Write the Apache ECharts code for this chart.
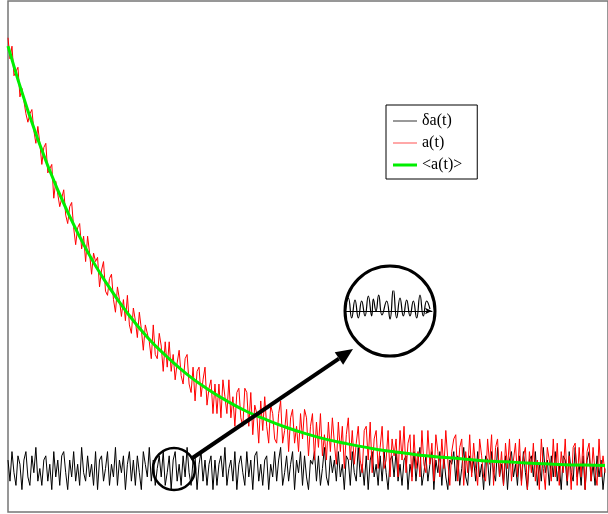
<!DOCTYPE html>
<html>
<head>
<meta charset="utf-8">
<script src="https://cdn.jsdelivr.net/npm/echarts@6/dist/echarts.min.js"></script>
<style>
html,body{margin:0;padding:0;background:#fff;}
#chart{width:608px;height:514px;}
</style>
</head>
<body>
<div id="chart"></div>
<script>
// sampling step of the noisy signals (time units)
const DT = 2;

// fluctuation δa(t)
const deltaA = [
  2, -3, 4, -1, -4, 3, 1, -5, 2, 4, -2, -4, 3, -1, 5,
  -3, 0, -4, 2, 3, -3, 1, -5, 4, -2, 2, -4, 3, 4, -1,
  -5, 2, -2, 4, -3, 1, -4, 5, -1, -3, 3, -2, 1, -4, 4,
  -5, 2, 3, -3, 0, 4, -4, 1, -2, 5, -4, 2, -1, 3, -5,
  1, 4, -3, 2, -4, 3, -1, -5, 4, 1, -2, 5, -3, 2, -4,
  0, 3, -2, 4, -4, -1, 3, -5, 2, 4, -3, 1, -4, 3, -2,
  5, -1, -4, 2, 3, -5, 1, 4, -3, 2, -4, 1, 3, -5, 2,
  -4, 1, 3, -2, 5, -4, 0, 2, -3, 4, -5, 1, 3, -1, -4,
  4, -2, 2, -5, 3, 4, -3, 1, -4, 2, 3, -5, 1, -2, 4,
  -3, 2, 5, -4, -1, 3, -3, 1, 4, -5, 2, -1, 4, -4, 3,
  -2, -5, 2, 1, 4, -3, 3, -4, 0, 5, -2, -4, 3, -1, 2,
  -3, 4, -2, 1, -5, 3, 2, -4, 4, -1, -3, 5, -2, 1, -4,
  3, -5, 2, 4, -2, 1, -4, 3, -3, 4, -1, -5, 2, 3, -2,
  4, -3, 1, -4, 2, 3, -5, 1, -2, 4, -3, 2, 5, -4, -1,
  3, -3, 1, 4, -5, 2, -1, 4, -4, 3, -2, -5, 2, 1, 4,
  -3, 3, -4, 0, 5, -2, -4, 3, -1, 2, -3, 4, -2, 1, -5,
  3, 2, -4, 4, -1, -3, 5, -2, 1, -4, 3, -5, 2, 4, -2,
  1, -4, 3, -3, 4, -1, -5, 2, 3, -2, 4, -4, 1, -3, 5,
  -1, 2, -4, 3, -2, 4, -3, 1, -5, 3, 2, -4, 4, -1, -3,
  5, -2, 1, -4, 3, -5, 2, 4, -3, 1, -4, 3, -2, 2, -5,
  0
];

// signal a(t)
const aValues = [
  102, 97, 100, 93, 94, 95, 88, 90, 90, 84, 82, 84, 85, 80, 77,
  81, 77, 72, 76, 77, 70, 70, 72, 64, 68, 68, 62, 64, 66, 60,
  58, 62, 63, 57, 53, 57, 58, 52, 55, 49, 55, 51, 46, 51, 49,
  50, 43, 47, 49, 42, 41, 45, 46, 40, 37, 43, 40, 36, 40, 35,
  41, 34, 32, 38, 35, 31, 37, 33, 28, 34, 34, 30, 26, 34, 27,
  26, 32, 29, 23, 30, 24, 30, 23, 27, 21, 25, 28, 22, 20, 26,
  27, 20, 18, 24, 16, 23, 24, 17, 21, 24, 15, 19, 21, 13, 20,
  13, 20, 12, 21, 17, 13, 21, 12, 17, 10, 18, 19, 12, 10, 19,
  18, 10, 18, 8, 15, 13, 6, 16, 9, 17, 10, 6, 15, 13, 7,
  6, 13, 16, 6, 9, 14, 4, 12, 14, 6, 10, 4, 13, 7, 14,
  12, 3, 10, 13, 2, 11, 5, 13, 3, 8, 2, 11, 4, 12, 6,
  1, 11, 4, 10, 0, 8, 12, 2, 9, 1, 6, 10, 2, -1, 9,
  10, 2, 11, -1, 7, 9, 0, 5, 10, 0, 2, 9, -2, 7, 3,
  7, -2, 9, 2, 10, -1, 6, 8, -3, 8, 0, 4, -2, 9, 1,
  -1, 9, 1, 6, -3, 8, 4, -2, 7, 0, 9, 2, -4, 4, 7,
  8, -3, 5, 7, -4, 4, -1, 8, -2, 6, 0, -4, 7, 3, -2,
  -3, 7, 1, 8, -4, 5, 7, -2, 4, -4, 6, 0, 7, -3, 2,
  6, -2, 7, -4, 3, 5, -5, 4, -1, 6, -3, 2, -5, 7, 0,
  -5, 5, 2, -3, 7, -2, 6, -4, 4, -1, 7, -3, 3, -5, 5,
  6, -4, 5, -2, 7, -5, 4, 6, -3, 5, -1, -4, 7, -2, 3,
  -1
];

// mean <a(t)>
const meanT = [0,20,40,60,80,100,120,140,160,180,200,220,240,260,280,300,320,340,360,380,400,420,440,460,480,500,520,540,560,580,600];
const meanA = [100,84.7,71.7,60.7,51.3,43.5,36.8,31.1,26.4,22.3,18.9,16.0,13.5,11.5,9.7,8.2,6.9,5.9,5.0,4.2,3.6,3.0,2.6,2.2,1.8,1.6,1.3,1.1,0.9,0.8,0.7];

// magnified fluctuation inside the lens
const zoomX = [15,25,35,45,55,65,75,85,95,100,108,116,126,140,150,160,170,180,190,200,210,220,230,240,250,260,270];
const zoomY = [2,13,-7,11,-7,10,-5,15,-5,12,0,16,-4,10,-8,22,-7,13,-5,11,-5,10,-7,16,-5,10,2];

const legendNames = ['δa(t)', 'a(t)', '<a(t)>'];

const pairs = (vals) => vals.map((v, i) => [i * DT, v]);
const zip = (xs, ys) => xs.map((x, i) => [x, ys[i]]);

// arrow geometry (annotation)
const tip = [353, 349], tail = [191, 459];
const ux = (tip[0]-tail[0]), uy = (tip[1]-tail[1]);
const ul = Math.hypot(ux, uy);
const ex = ux/ul, ey = uy/ul;
const headL = 17, headW = 7.5;
const bx = tip[0]-headL*ex, by = tip[1]-headL*ey;

const chart = echarts.init(document.getElementById('chart'));
chart.setOption({
  animation: false,
  backgroundColor: '#fff',
  grid: [
    {left: 8, right: -3, top: 1, bottom: 2, show: true, borderColor: '#767676', borderWidth: 1.5, backgroundColor: 'transparent'},
    {left: 345, width: 87, top: 291, height: 40}
  ],
  xAxis: [
    {gridIndex: 0, type: 'value', min: 0, max: 603, show: false},
    {gridIndex: 1, type: 'value', min: 15, max: 276,
     axisLine: {show: true, onZero: true, symbol: ['none', 'arrow'], symbolSize: [5, 7], lineStyle: {color: '#000', width: 1}},
     axisTick: {show: false}, axisLabel: {show: false}, splitLine: {show: false}}
  ],
  yAxis: [
    {gridIndex: 0, type: 'value', min: -10.3, max: 110.7, show: false},
    {gridIndex: 1, type: 'value', min: -20, max: 20,
     axisLine: {show: false}, axisTick: {show: false}, axisLabel: {show: false}, splitLine: {show: false}}
  ],
  legend: {
    data: [
      {name: legendNames[0], icon: 'path://M0 0H24V1H0Z'},
      {name: legendNames[1], icon: 'path://M0 0H24V1H0Z'},
      {name: legendNames[2], icon: 'path://M0 0H24V3H0Z'}
    ],
    orient: 'vertical',
    left: 386, top: 105,
    padding: [8, 15, 6, 7],
    itemWidth: 24, itemHeight: 14, itemGap: 6, itemTextGap: 11,
    backgroundColor: '#fff', borderColor: '#000', borderWidth: 1, borderRadius: 0,
    textStyle: {fontFamily: 'Liberation Serif', fontSize: 16, color: '#000', lineHeight: 14}
  },
  series: [
    {name: legendNames[0], type: 'line', xAxisIndex: 0, yAxisIndex: 0, data: pairs(deltaA),
     symbol: 'none', lineStyle: {color: '#000', width: 1}, itemStyle: {color: '#333'}, z: 2},
    {name: legendNames[1], type: 'line', xAxisIndex: 0, yAxisIndex: 0, data: pairs(aValues),
     symbol: 'none', lineStyle: {color: '#ff0000', width: 1}, itemStyle: {color: '#ff5050'}, z: 3},
    {name: legendNames[2], type: 'line', xAxisIndex: 0, yAxisIndex: 0, data: zip(meanT, meanA),
     symbol: 'none', smooth: true, lineStyle: {color: '#00ee00', width: 3}, itemStyle: {color: '#00ee00'}, z: 4},
    {name: 'zoom', type: 'line', xAxisIndex: 1, yAxisIndex: 1, data: zip(zoomX, zoomY),
     symbol: 'none', smooth: 0.5, lineStyle: {color: '#000', width: 1.2}, itemStyle: {color: '#000'}, z: 5}
  ],
  graphic: [
    {type: 'circle', shape: {cx: 174, cy: 469, r: 21}, style: {fill: 'none', stroke: '#000', lineWidth: 2.5}, z: 100},
    {type: 'circle', shape: {cx: 390, cy: 311, r: 45}, style: {fill: 'none', stroke: '#000', lineWidth: 3}, z: 100},
    {type: 'line', shape: {x1: tail[0], y1: tail[1], x2: bx, y2: by}, style: {stroke: '#000', lineWidth: 4}, z: 100},
    {type: 'polygon', shape: {points: [tip, [bx + headW*ey, by - headW*ex], [bx - headW*ey, by + headW*ex]]}, style: {fill: '#000'}, z: 100}
  ]
});
</script>
</body>
</html>
